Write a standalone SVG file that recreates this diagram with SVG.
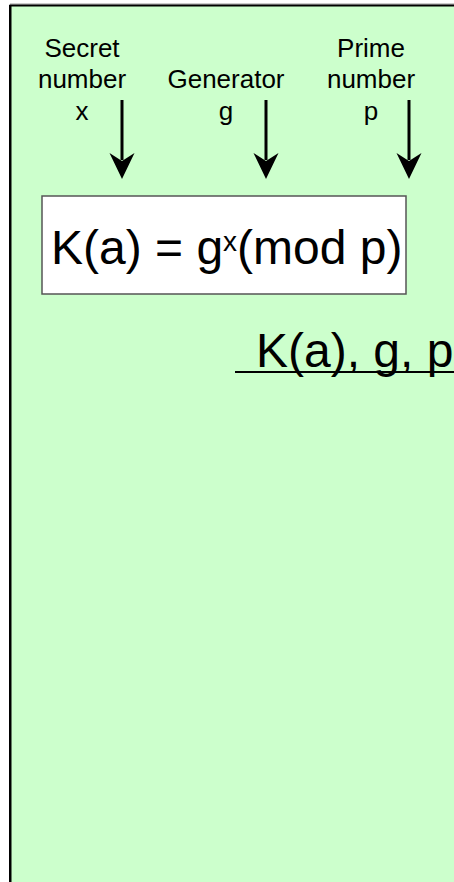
<svg xmlns="http://www.w3.org/2000/svg" width="454" height="882" viewBox="0 0 454 882">
  <style>
    .lbl { font-family: "Liberation Sans", Arial, sans-serif; font-size: 26px; fill: #000; text-anchor: middle; }
    .big { font-family: "Liberation Sans", Arial, sans-serif; font-size: 48px; fill: #000; }
    .shaft { stroke: #000; stroke-width: 3; fill: none; }
    .head { fill: #000; stroke: none; }
  </style>
  <rect x="0" y="0" width="454" height="882" fill="#ffffff"/>
  <g id="panel">
    <line x1="10" y1="4" x2="454" y2="4" stroke="#999" stroke-width="1"/>
    <rect x="10.5" y="5.5" width="460" height="900" fill="#ccffcc" stroke="#000" stroke-width="2"/>
    <line x1="9.5" y1="5" x2="9.5" y2="882" stroke="#000" stroke-width="1"/>
  </g>
  <g id="label-secret">
    <text class="lbl" x="82" y="57">Secret</text>
    <text class="lbl" x="82" y="88">number</text>
    <text class="lbl" x="82" y="120">x</text>
  </g>
  <g id="label-generator">
    <text class="lbl" x="226" y="88">Generator</text>
    <text class="lbl" x="226" y="120">g</text>
  </g>
  <g id="label-prime">
    <text class="lbl" x="371" y="57">Prime</text>
    <text class="lbl" x="371" y="88">number</text>
    <text class="lbl" x="371" y="120">p</text>
  </g>
  <g id="formula-box">
    <rect x="42" y="196" width="364" height="98" fill="#ffffff" stroke="#555" stroke-width="1.5"/>
    <text class="big" x="51" y="264">K(a) = g<tspan font-size="28" dy="-13">x</tspan><tspan dy="13">(mod p)</tspan></text>
  </g>
  <g id="message">
    <text class="big" x="256" y="367" font-size="46">K(a), g, p</text>
  </g>
  <g id="connectors">
    <line class="shaft" x1="122" y1="100" x2="122" y2="160"/>
    <polygon class="head" points="122,179 109.5,153 122,161 134.5,153"/>
    <line class="shaft" x1="266" y1="100" x2="266" y2="160"/>
    <polygon class="head" points="266,179 253.5,153 266,161 278.5,153"/>
    <line class="shaft" x1="409" y1="100" x2="409" y2="160"/>
    <polygon class="head" points="409,179 396.5,153 409,161 421.5,153"/>
    <line x1="235" y1="372" x2="454" y2="372" stroke="#000" stroke-width="2"/>
  </g>
</svg>
